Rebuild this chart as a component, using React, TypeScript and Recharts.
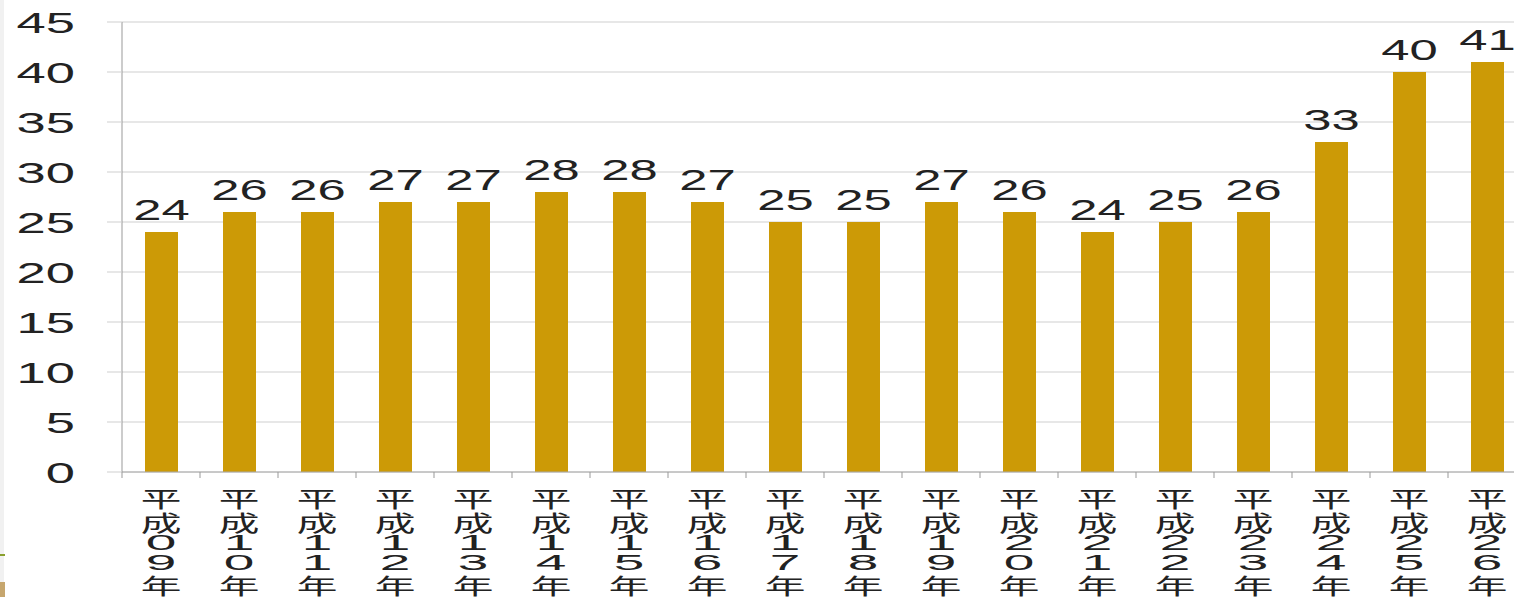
import { BarChart, Bar, XAxis, YAxis, CartesianGrid, LabelList } from 'recharts';

const years = [
  '平成09年', '平成10年', '平成11年', '平成12年', '平成13年', '平成14年',
  '平成15年', '平成16年', '平成17年', '平成18年', '平成19年', '平成20年',
  '平成21年', '平成22年', '平成23年', '平成24年', '平成25年', '平成26年',
];
const counts = [24, 26, 26, 27, 27, 28, 28, 27, 25, 25, 27, 26, 24, 25, 26, 33, 40, 41];
const yTicks = [0, 5, 10, 15, 20, 25, 30, 35, 40, 45];

const data = years.map((year, i) => ({ year, count: counts[i] }));

const BAR_COLOR = '#CC9A06';
const GRID = '#cfcfcf';
const NUM_FONT = '"Liberation Sans", Arial, sans-serif';
const CJK_FONT = '"Noto Sans CJK JP", "Liberation Sans", sans-serif';

function YTick(props: any) {
  const { x, y, payload } = props;
  return (
    <g transform={`translate(${x}, ${y})`}>
      <text
        transform="scale(1.75,1)"
        textAnchor="end"
        dy="0.36em"
        fontFamily={NUM_FONT}
        fontSize={30}
        fill="#222"
      >
        {payload.value}
      </text>
    </g>
  );
}

// vertical stacked label, one glyph per line
function XTick(props: any) {
  const { x, y, payload, index, visibleTicksCount } = props;
  const chars: string[] = Array.from(String(payload.value));
  const base = y - 6;
  const half = 39;
  let cy = base;
  const rows = chars.map((c, i) => {
    const isDigit = /[0-9]/.test(c);
    cy += isDigit ? (i === 2 ? 19 : 20) : i === 0 ? 35 : 24;
    return (
      <g key={i} transform={`translate(${x}, ${cy})`}>
        <text
          transform={isDigit ? 'scale(2.5,1)' : 'scale(1.85,1)'}
          textAnchor="middle"
          fontFamily={isDigit ? NUM_FONT : CJK_FONT}
          fontSize={isDigit ? 22 : 22}
          fill="#222"
        >
          {c}
        </text>
      </g>
    );
  });
  return (
    <g>
      <line x1={x - half} x2={x - half} y1={base} y2={base + 6} stroke="#999" />
      {index === visibleTicksCount - 1 && (
        <line x1={x + half} x2={x + half} y1={base} y2={base + 6} stroke="#999" />
      )}
      {rows}
    </g>
  );
}

function ValueLabel(props: any) {
  const { x, y, width, value } = props;
  return (
    <g transform={`translate(${x + width / 2}, ${y - 12})`}>
      <text
        transform="scale(1.75,1)"
        textAnchor="middle"
        fontFamily={NUM_FONT}
        fontSize={29}
        fill="#222"
      >
        {value}
      </text>
    </g>
  );
}

export default function App() {
  return (
    <div
      style={{
        position: 'absolute',
        left: 0,
        top: 0,
        width: 1514,
        height: 597,
        overflow: 'hidden',
        background: '#fff',
      }}
    >
      <BarChart
        width={1530}
        height={597}
        data={data}
        margin={{ top: 22, right: 4, bottom: 0, left: 0 }}
        barCategoryGap={0}
      >
        <CartesianGrid vertical={false} stroke={GRID} />
        <XAxis
          dataKey="year"
          interval={0}
          height={125}
          tickLine={false}
          tickSize={6}
          tickMargin={0}
          axisLine={{ stroke: '#aaa' }}
          tick={<XTick />}
        />
        <YAxis
          domain={[0, 45]}
          ticks={yTicks}
          width={122}
          tickSize={15}
          tickMargin={32}
          tickLine={{ stroke: GRID }}
          axisLine={{ stroke: '#999' }}
          tick={<YTick />}
        />
        <Bar dataKey="count" fill={BAR_COLOR} barSize={33} isAnimationActive={false}>
          <LabelList dataKey="count" content={<ValueLabel />} />
        </Bar>
      </BarChart>
      <div style={{ position: 'absolute', left: 0, top: 0, width: 4, height: 597, background: '#f1f1f1' }} />
      <div style={{ position: 'absolute', left: 0, top: 554, width: 5, height: 2, background: '#8aa02e' }} />
      <div style={{ position: 'absolute', left: 0, top: 582, width: 5, height: 15, background: '#c6a66e' }} />
    </div>
  );
}
